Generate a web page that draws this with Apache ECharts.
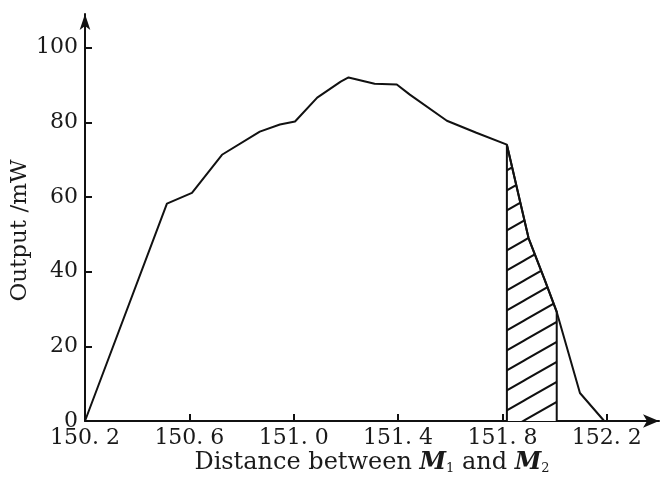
<!DOCTYPE html>
<html>
<head>
<meta charset="utf-8">
<script src="https://cdn.jsdelivr.net/npm/echarts@6/dist/echarts.min.js"></script>
<style>html,body{margin:0;padding:0;background:#fff;}#c{width:668px;height:479px;}</style>
</head>
<body>
<div id="c"></div>
<script>
// Distance between M1 and M2 (x) and output in mW (y)
const distance = [150.2, 150.514, 150.61, 150.725, 150.87, 150.947, 151.005, 151.09, 151.18, 151.21, 151.31, 151.395, 151.445, 151.587, 151.7, 151.817, 151.9, 151.962, 152.008, 152.097, 152.19];
const output   = [0,     58.2,    61.1,   71.3,    77.5,   79.4,    80.2,    86.6,   90.9,   92.0,   90.3,   90.1,    87.4,    80.4,    77.2,  74.0,    49.0,  37.8,    29.2,    7.5,     0];
// hatched interval (indices into the arrays above)
const hatchFrom = 15, hatchTo = 18;
const xTicks = [150.2, 150.6, 151.0, 151.4, 151.8, 152.2];
const xTickLabels = ['150. 2', '150. 6', '151. 0', '151. 4', '151. 8', '152. 2'];
const yTicks = [0, 20, 40, 60, 80, 100];
const yTickLabels = ['0', '20', '40', '60', '80', '100'];

const mainData = distance.map((d, i) => [d, output[i]]);
const hatchData = [[distance[hatchFrom], 0]]
  .concat(mainData.slice(hatchFrom, hatchTo + 1))
  .concat([[distance[hatchTo], 0]]);

function makePattern() {
  const w = 35, h = 20;
  const cv = document.createElement('canvas');
  cv.width = w; cv.height = h;
  const ctx = cv.getContext('2d');
  ctx.fillStyle = '#fff';
  ctx.fillRect(0, 0, w, h);
  ctx.strokeStyle = '#111';
  ctx.lineWidth = 2;
  ctx.beginPath();
  ctx.moveTo(0, h); ctx.lineTo(w, 0);
  ctx.moveTo(-w, h); ctx.lineTo(w, -h);
  ctx.moveTo(0, 2 * h); ctx.lineTo(2 * w, 0);
  ctx.stroke();
  return cv;
}

const font = 'DejaVu Serif';
const chart = echarts.init(document.getElementById('c'), null, {renderer: 'canvas'});
chart.setOption({
  animation: false,
  backgroundColor: '#fff',
  grid: {left: 85, right: 9, top: 14, bottom: 58, containLabel: false, outerBoundsMode: 'none'},
  xAxis: {
    type: 'value', min: 150.2, max: 152.4,
    name: 'Distance between {i|M}{s|1} and {i|M}{s|2}',
    nameLocation: 'middle', nameGap: 29, nameMoveOverlap: false,
    nameTextStyle: {
      fontFamily: font, fontSize: 24, color: '#1a1a1a',
      rich: {
        i: {fontFamily: font, fontSize: 24, fontStyle: 'italic', fontWeight: 'bold', color: '#1a1a1a'},
        s: {fontFamily: font, fontSize: 13, color: '#1a1a1a', padding: [12, 0, 0, 0]}
      }
    },
    axisLine: {show: true, symbol: ['none', 'arrow'], symbolSize: [10, 16], lineStyle: {color: '#111', width: 2}},
    axisTick: {show: true, inside: true, length: 7, customValues: xTicks, lineStyle: {color: '#111', width: 2}},
    axisLabel: {
      customValues: xTicks, margin: 6,
      fontFamily: font, fontSize: 22, color: '#1a1a1a',
      formatter: v => { const k = xTicks.findIndex(t => Math.abs(t - v) < 1e-6); return k >= 0 ? xTickLabels[k] : ''; }
    },
    splitLine: {show: false}
  },
  yAxis: {
    type: 'value', min: 0, max: 109,
    name: 'Output /mW',
    nameLocation: 'middle', nameGap: 53, nameRotate: 90, nameMoveOverlap: false,
    nameTextStyle: {fontFamily: font, fontSize: 23, color: '#1a1a1a', padding: [0, 26, 0, 0]},
    axisLine: {show: true, symbol: ['none', 'arrow'], symbolSize: [8, 16], lineStyle: {color: '#111', width: 2}},
    axisTick: {show: true, inside: true, length: 7, customValues: yTicks, lineStyle: {color: '#111', width: 2}},
    axisLabel: {
      customValues: yTicks, margin: 7,
      fontFamily: font, fontSize: 22, color: '#1a1a1a',
      formatter: v => { const k = yTicks.findIndex(t => Math.abs(t - v) < 1e-6); return k >= 0 ? yTickLabels[k] : ''; }
    },
    splitLine: {show: false}
  },
  series: [
    {
      type: 'line', data: hatchData, symbol: 'none', z: 2,
      lineStyle: {color: '#111', width: 2},
      areaStyle: {color: {image: makePattern(), repeat: 'repeat'}, opacity: 1}
    },
    {
      type: 'line', data: mainData, symbol: 'none', z: 3,
      lineStyle: {color: '#111', width: 2}
    }
  ]
});
</script>
</body>
</html>
